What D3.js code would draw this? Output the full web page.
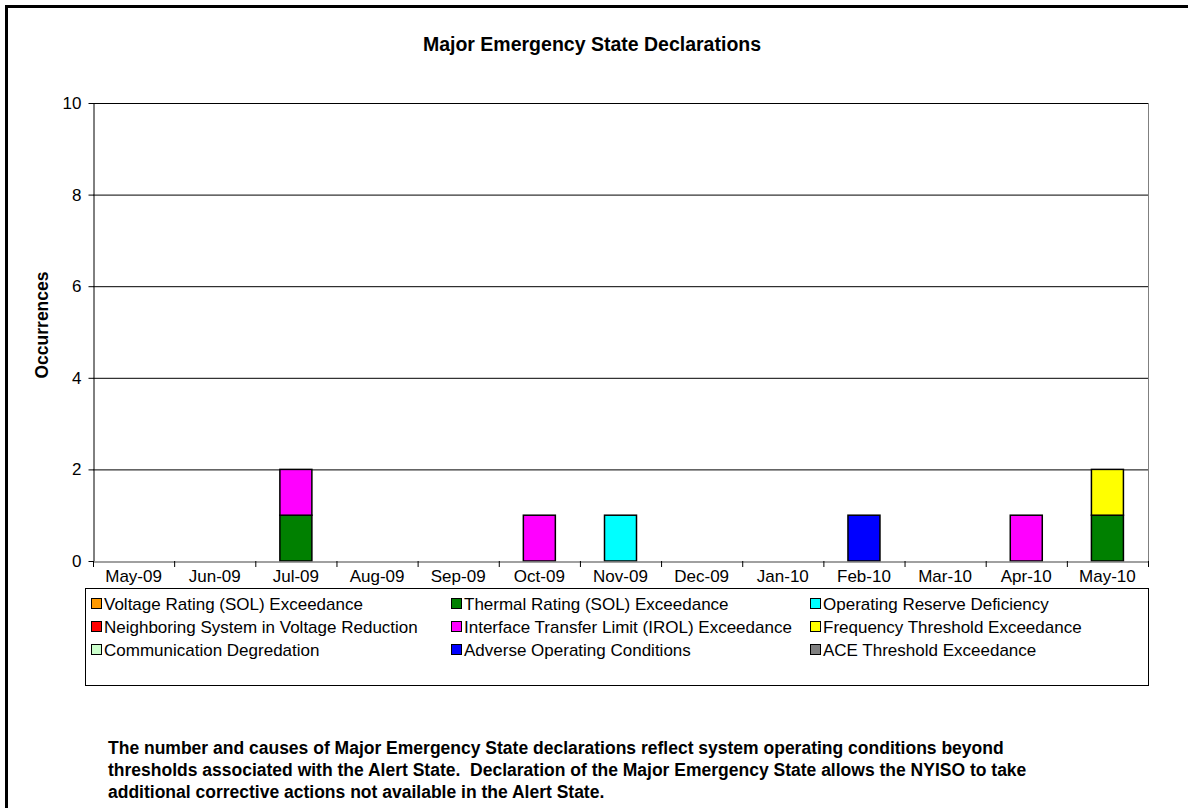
<!DOCTYPE html>
<html><head><meta charset="utf-8">
<script src="https://cdn.jsdelivr.net/npm/d3@7"></script>
<style>
body{margin:0;background:#fff;}
svg{display:block;font-family:"Liberation Sans",Arial,sans-serif;}
</style></head>
<body><svg id="c" width="1188" height="808"></svg>
<script>
const months = ["May-09","Jun-09","Jul-09","Aug-09","Sep-09","Oct-09","Nov-09","Dec-09","Jan-10","Feb-10","Mar-10","Apr-10","May-10"];
const seriesNames = ["Voltage Rating (SOL) Exceedance","Thermal Rating (SOL) Exceedance","Operating Reserve Deficiency","Neighboring System in Voltage Reduction","Interface Transfer Limit (IROL) Exceedance","Frequency Threshold Exceedance","Communication Degredation","Adverse Operating Conditions","ACE Threshold Exceedance"];
const seriesColors = ["#FF9900","#008000","#00FFFF","#FF0000","#FF00FF","#FFFF00","#CCFFCC","#0000FF","#808080"];
const voltage   = [0,0,0,0,0,0,0,0,0,0,0,0,0];
const thermal   = [0,0,1,0,0,0,0,0,0,0,0,0,1];
const reserve   = [0,0,0,0,0,0,1,0,0,0,0,0,0];
const neighbor  = [0,0,0,0,0,0,0,0,0,0,0,0,0];
const irol      = [0,0,1,0,0,1,0,0,0,0,0,1,0];
const frequency = [0,0,0,0,0,0,0,0,0,0,0,0,1];
const comm      = [0,0,0,0,0,0,0,0,0,0,0,0,0];
const adverse   = [0,0,0,0,0,0,0,0,0,1,0,0,0];
const ace       = [0,0,0,0,0,0,0,0,0,0,0,0,0];
const yTicks = [0,2,4,6,8,10];
const seriesValues = [voltage,thermal,reserve,neighbor,irol,frequency,comm,adverse,ace];

const svg = d3.select("#c");
svg.append("rect").attr("x",6.5).attr("y",6.5).attr("width",1190).attr("height",820)
  .attr("fill","none").attr("stroke","#000").attr("stroke-width",3);

svg.append("text").attr("x",592).attr("y",51).attr("text-anchor","middle")
  .attr("font-size","19.5px").attr("font-weight","bold").text("Major Emergency State Declarations");

const L=93, R=1148, T=103, B=561;
const xb = d3.scaleBand().domain(months).range([L,R]);
const y = d3.scaleLinear().domain([0,10]).range([B,T]);

svg.append("g").selectAll("line").data(yTicks.filter(d=>d>0)).join("line")
  .attr("x1",L).attr("x2",R).attr("y1",d=>y(d)+0.5).attr("y2",d=>y(d)+0.5)
  .attr("stroke","#000").attr("stroke-width",1);
svg.append("line").attr("x1",R+0.5).attr("x2",R+0.5).attr("y1",T).attr("y2",B).attr("stroke","#808080");

const data = months.map((m,i)=>{const o={month:m}; seriesValues.forEach((s,j)=>o["s"+j]=s[i]); return o;});
const stacked = d3.stack().keys(seriesNames.map((n,j)=>"s"+j))(data);
const bw = 32;
stacked.forEach((layer,j)=>{
  svg.append("g").selectAll("rect").data(layer.filter(d=>d[1]-d[0]>0)).join("rect")
    .attr("x",d=>xb(d.data.month)+xb.bandwidth()/2-bw/2)
    .attr("width",bw)
    .attr("y",d=>y(d[1]))
    .attr("height",d=>y(d[0])-y(d[1]))
    .attr("fill",seriesColors[j]).attr("stroke","#000").attr("stroke-width",1.5);
});

const ya = svg.append("g").attr("transform",`translate(${L+0.5},0)`)
  .call(d3.axisLeft(y).tickValues(yTicks).tickSize(5).tickSizeOuter(0));
ya.select(".domain").attr("stroke","#000");
ya.selectAll("text").attr("font-size","17px").attr("font-family","Liberation Sans, Arial").attr("fill","#000").attr("dx","-4");
const xa = svg.append("g").attr("transform",`translate(0,${B+0.5})`)
  .call(d3.axisBottom(xb).tickSize(0).tickSizeOuter(0));
xa.select(".domain").attr("stroke","#808080").attr("stroke-width",1.5);
xa.selectAll("text").attr("font-size","17px").attr("font-family","Liberation Sans, Arial").attr("fill","#000").attr("dy","1.05em");
svg.append("g").selectAll("line").data(d3.range(months.length+1)).join("line")
  .attr("x1",i=>L+i*xb.step()+0.5).attr("x2",i=>L+i*xb.step()+0.5)
  .attr("y1",B).attr("y2",B+6).attr("stroke","#000");

svg.append("text").attr("transform","translate(48,325) rotate(-90)").attr("text-anchor","middle")
  .attr("font-size","17.5px").attr("font-weight","bold").text("Occurrences");

svg.append("rect").attr("x",85.5).attr("y",588.5).attr("width",1063).attr("height",97)
  .attr("fill","#fff").attr("stroke","#000").attr("stroke-width",1);
const colX=[91,451,810], rowY=[604,627,650];
seriesNames.forEach((n,i)=>{
  const cx=colX[i%3], cy=rowY[Math.floor(i/3)];
  svg.append("rect").attr("x",cx+0.5).attr("y",cy-5.5).attr("width",10).attr("height",10)
    .attr("fill",seriesColors[i]).attr("stroke","#000").attr("stroke-width",1);
  svg.append("text").attr("x",cx+13).attr("y",cy+6).attr("font-size","17px").text(n);
});

const notes=["The number and causes of Major Emergency State declarations reflect system operating conditions beyond",
"thresholds associated with the Alert State.  Declaration of the Major Emergency State allows the NYISO to take",
"additional corrective actions not available in the Alert State."];
notes.forEach((t,i)=>svg.append("text").attr("x",108).attr("y",754+i*22).attr("font-size","17.5px")
  .attr("font-weight","bold").style("white-space","pre").text(t));
</script></body></html>
